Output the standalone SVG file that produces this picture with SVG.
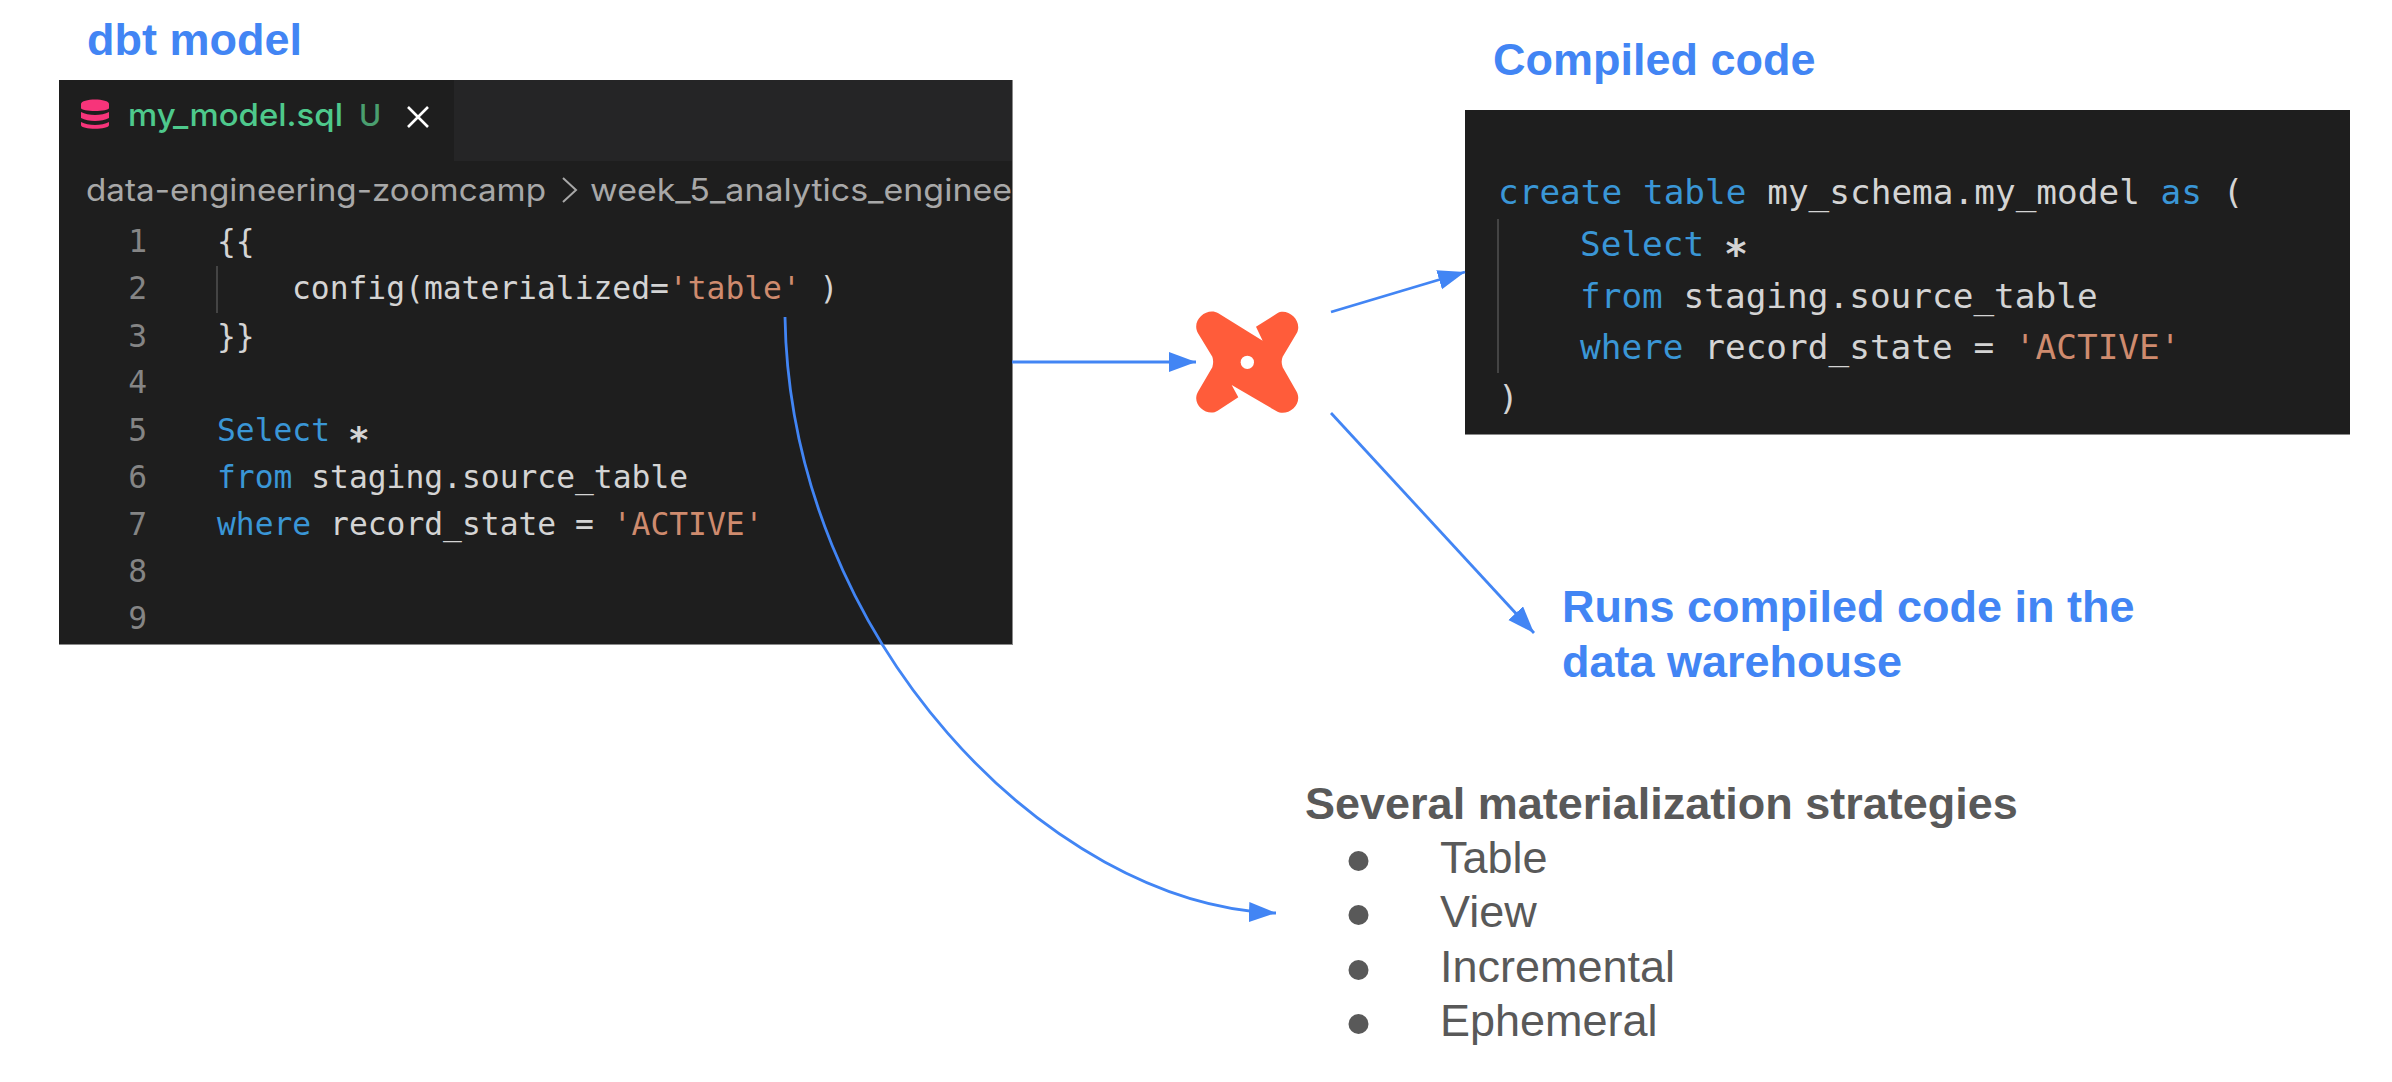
<svg xmlns="http://www.w3.org/2000/svg" width="2392" height="1082" viewBox="0 0 2392 1082">
<style>
.h{font:bold 45px "Liberation Sans",Arial,sans-serif;fill:#4285F4}
.g{font:45px "Liberation Sans",Arial,sans-serif;fill:#595959}
.gb{font:bold 45px "Liberation Sans",Arial,sans-serif;fill:#595959}
.c1,.c2{font-family:"DejaVu Sans Mono","Liberation Mono",monospace;fill:#D4D4D4;white-space:pre}
.c1{font-size:31.3px}
.c2{font-size:34.4px}
.k{fill:#3A96D6}
.s{fill:#CF8B6E}
.n{fill:#858585;text-anchor:end}
.ui{font-family:Inter,"Liberation Sans",sans-serif}
.b{fill:#595959}
.con{fill:none;stroke:#4285F4;stroke-width:2.8}
.st{font-weight:bold}
</style>
<defs>
<marker id="ah" markerUnits="userSpaceOnUse" markerWidth="30" markerHeight="24" refX="27" refY="10" orient="auto"><path d="M0 0L27 10L0 20Z" fill="#4285F4"/></marker>
<clipPath id="p1"><rect x="59" y="80" width="953" height="565"/></clipPath>
</defs>
<rect width="2392" height="1082" fill="#fff"/>
<g id="dbt-model-title"><text class="h" x="87" y="55">dbt model</text></g>
<g id="dbt-model-editor">
<rect x="59" y="80" width="954" height="565" fill="#8a8a8a"/>
<rect x="59" y="80" width="953" height="564" fill="#1E1E1E"/>
<rect x="454" y="80" width="558" height="81" fill="#252526"/>
<g fill="#F7347A"><path d="M81 104C81 98 109 98 109 104V108C109 112 81 112 81 108Z"/><path d="M81 112C88 116 102 116 109 112V118C102 122 88 122 81 118Z"/><path d="M81 122C88 126 102 126 109 122V125C109 130 81 130 81 125Z"/></g>
<text class="ui" x="128" y="126" font-size="31.5" font-weight="500" fill="#4EC98C" textLength="215" lengthAdjust="spacingAndGlyphs">my_model.sql</text>
<text class="ui" x="359" y="126" font-size="30" font-weight="500" fill="#4A9E6F">U</text>
<path d="M408 107L428 127M428 107L408 127" stroke="#fff" stroke-width="2.6" fill="none"/>
<g clip-path="url(#p1)">
<text class="ui" x="86" y="201" font-size="31" fill="#A8A8A8" textLength="460" lengthAdjust="spacingAndGlyphs">data-engineering-zoomcamp</text>
<path d="M563 178L576 190L563 202" stroke="#A8A8A8" stroke-width="2" fill="none"/>
<text class="ui" x="590" y="201" font-size="31" fill="#A8A8A8" textLength="422" lengthAdjust="spacingAndGlyphs">week_5_analytics_enginee</text>
</g>
<path d="M217 266V313" stroke="#444" stroke-width="2"/>
<g class="c1">
<text class="n" x="147" y="252">1</text>
<text class="n" x="147" y="299">2</text>
<text class="n" x="147" y="347">3</text>
<text class="n" x="147" y="393">4</text>
<text class="n" x="147" y="441">5</text>
<text class="n" x="147" y="488">6</text>
<text class="n" x="147" y="535">7</text>
<text class="n" x="147" y="582">8</text>
<text class="n" x="147" y="629">9</text>
<text x="217" y="252">{{</text>
<text x="292" y="299">config(materialized=<tspan class="s">'table'</tspan> )</text>
<text x="217" y="347">}}</text>
<text x="217" y="441"><tspan class="k">Select</tspan> <tspan class="st" font-size="36" dy="10.5" dx="-1">*</tspan></text>
<text x="217" y="488"><tspan class="k">from</tspan> staging.source_table</text>
<text x="217" y="535"><tspan class="k">where</tspan> record_state = <tspan class="s">'ACTIVE'</tspan></text>
</g>
</g>
<g id="dbt-logo">
<g transform="translate(1170 290) scale(.33333)">
<path fill="#FF5C3A" d="M145 70L278 152L258 110L322 70C352 52 400 92 380 130L338 200Q332 215 338 232L380 305C400 344 352 382 320 364L185 285L205 322L143 362C112 382 62 344 84 305L127 232Q132 215 127 200L84 130C62 90 112 50 145 70Z"/>
<circle cx="232" cy="217" r="20" fill="#fff"/>
</g>
</g>
<g id="compiled-code-title"><text class="h" x="1493" y="75">Compiled code</text></g>
<g id="compiled-code-editor">
<rect x="1465" y="110" width="885" height="325" fill="#8a8a8a"/>
<rect x="1465" y="110" width="885" height="324" fill="#1E1E1E"/>
<path d="M1498 219V373" stroke="#444" stroke-width="2"/>
<g class="c2">
<text x="1498" y="204"><tspan class="k">create table</tspan> my_schema.my_model <tspan class="k">as</tspan> (</text>
<text x="1580" y="256"><tspan class="k">Select</tspan> <tspan class="st" font-size="40" dy="12" dx="-1">*</tspan></text>
<text x="1580" y="308"><tspan class="k">from</tspan> staging.source_table</text>
<text x="1580" y="359"><tspan class="k">where</tspan> record_state = <tspan class="s">'ACTIVE'</tspan></text>
<text x="1498" y="410">)</text>
</g>
</g>
<g id="runs-label">
<text class="h" x="1562" y="622">Runs compiled code in the</text>
<text class="h" x="1562" y="677">data warehouse</text>
</g>
<g id="strategies-list">
<text class="gb" x="1305" y="819">Several materialization strategies</text>
<ellipse class="b" cx="1358.5" cy="861" rx="10" ry="10"/>
<ellipse class="b" cx="1358.5" cy="915" rx="10" ry="10"/>
<ellipse class="b" cx="1358.5" cy="970" rx="10" ry="10"/>
<ellipse class="b" cx="1358.5" cy="1024" rx="10" ry="10"/>
<text class="g" x="1440" y="873">Table</text>
<text class="g" x="1440" y="927">View</text>
<text class="g" x="1440" y="982">Incremental</text>
<text class="g" x="1440" y="1036">Ephemeral</text>
</g>
<g id="connectors">
<path class="con" marker-end="url(#ah)" d="M1012 362H1196"/>
<path class="con" marker-end="url(#ah)" d="M1331 312L1465 272"/>
<path class="con" marker-end="url(#ah)" d="M1331 413L1534 633"/>
<path class="con" marker-end="url(#ah)" d="M785 317C790 640 1050 905 1276 913"/>
</g>
</svg>
